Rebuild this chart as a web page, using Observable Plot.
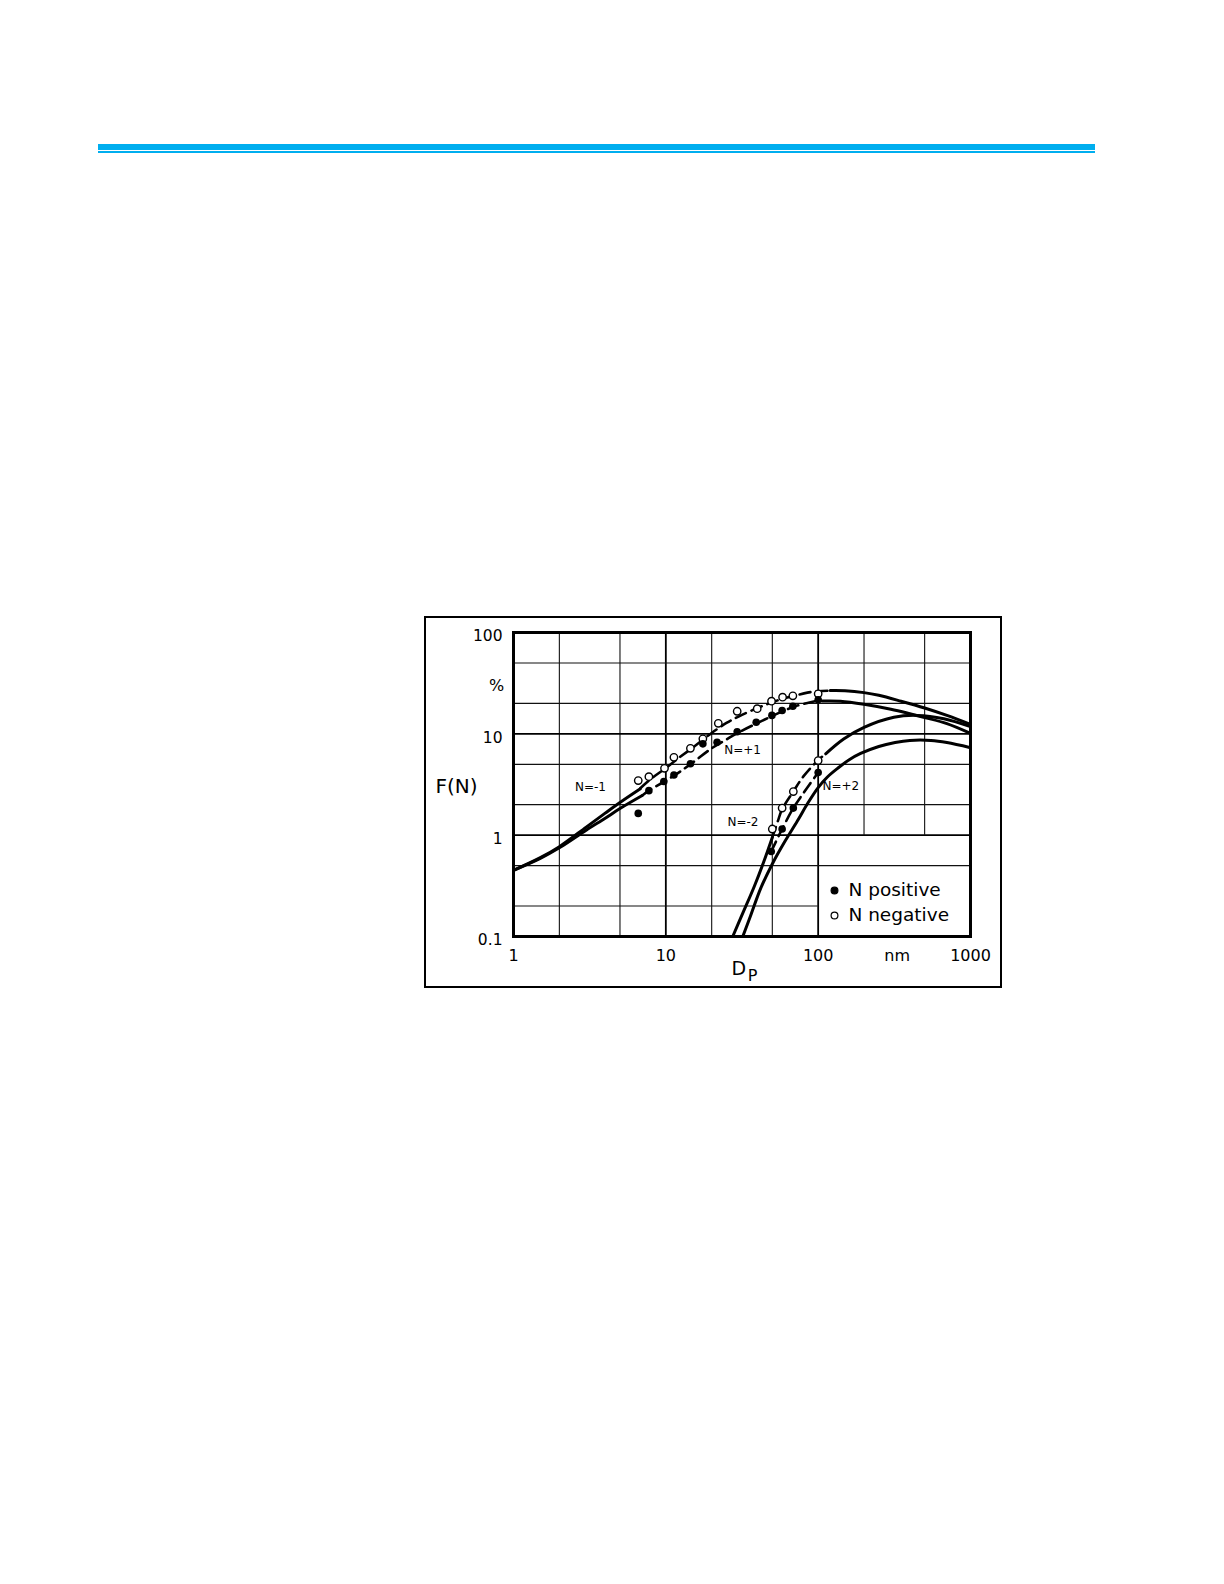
<!DOCTYPE html>
<html>
<head>
<meta charset="utf-8">
<script src="https://cdn.jsdelivr.net/npm/d3@7"></script>
<script src="https://cdn.jsdelivr.net/npm/@observablehq/plot@0.6"></script>
<style>
  html, body { margin: 0; padding: 0; background: #fff; }
  body { width: 1224px; height: 1584px; position: relative; overflow: hidden; font-family: "DejaVu Sans", sans-serif; }
  .bar1 { position: absolute; left: 98px; top: 144px; width: 997px; height: 6px; background: #00AEEF; }
  .bar2 { position: absolute; left: 98px; top: 151px; width: 997px; height: 2px; background: #00AEEF; }
  #chart { position: absolute; left: 425px; top: 617px; }
  .box { position: absolute; left: 424px; top: 616px; width: 578px; height: 372px; border: 2px solid #000; box-sizing: border-box; pointer-events: none; }
</style>
</head>
<body>
<div class="bar1"></div>
<div class="bar2"></div>
<div id="chart"></div>
<div class="box"></div>
<script>
// ---- Axis ticks / grid ----
const xDomain = [1, 1000];
const yDomain = [0.1, 100];
const xTickValues = [1, 10, 100, 330, 1000];
const xTickLabels = ["1", "10", "100", "nm", "1000"];
const yTickValues = [100, 10, 1, 0.1];
const yTickLabels = ["100", "10", "1", "0.1"];
const xMinorGridFull = [2, 5, 20, 50];
const xMinorGridUpper = [200, 500];   // stop at F(N)=1 (legend area left clear)
const xMajorGrid = [10, 100];
const yMinorGridFull = [0.5, 2, 5, 20, 50];
const yMinorGridLeft = [0.2];         // stops at Dp=100 (legend area left clear)
const yMajorGrid = [1, 10];
const gridBreakX = 100;
const gridBreakY = 1;

// ---- Theoretical curves (solid) and fits (dashed): [Dp nm, F(N) %] ----
const nMinus1Left = [[1,0.45],[1.5,0.6],[2,0.77],[3,1.2],[4,1.65],[5,2.1],[6.8,2.87]];
const nPlus1Left  = [[1,0.45],[1.5,0.59],[2,0.75],[3,1.12],[4,1.47],[5,1.83],[7,2.46]];
const nMinus1Dash = [[6.8,2.9],[8,3.6],[10,4.6],[12,5.7],[15,7.3],[20,10.2],[25,12.8],[30,14.8],[40,18],[50,20.5],[60,22.5],[70,23.8],[85,25.5],[100,26.3],[118,26.7]];
const nPlus1Dash  = [[7,2.46],[7.74,2.75],[10,3.45],[12,4.1],[15,5.2],[20,7.2],[25,8.8],[30,10.3],[40,12.8],[50,15],[60,17],[70,18.6],[85,20.2],[100,21.3]];
const nMinus1Right = [[120,26.7],[150,26.6],[200,25.5],[250,24],[350,21],[500,18],[700,15.2],[1000,12.4]];
const nPlus1Right  = [[106,21.1],[140,21],[200,19.6],[300,17.5],[400,15.8],[500,14.5],[700,12.6],[1000,10.1]];
const nMinus2Left  = [[27.5,0.1],[32,0.17],[38,0.31],[44,0.55],[50,0.95]];
const nMinus2Dash  = [[50,0.95],[55,1.45],[58,1.8],[68.7,2.7],[80,3.8],[100,5.5],[110,6.2]];
const nMinus2Right = [[112,6.35],[147,8.9],[200,11.6],[314,14.6],[448,15.2],[668,14.1],[1000,11.8]];
const nPlus2Curve  = [[32,0.1],[36,0.16],[42,0.3],[50,0.52],[60,0.85],[73,1.38],[86,2.1],[100,2.95],[115,3.75],[135,4.6],[160,5.55],[190,6.4],[250,7.5],[320,8.2],[400,8.6],[550,8.6],[700,8.2],[1000,7.3]];
const nPlus2Dash   = [[49.2,0.69],[58,1.15],[68.7,1.85],[80,2.6],[100,4.15]];

// ---- Measured points ----
const negX = [6.59,7.74,9.8,11.3,14.5,17.5,22.1,29.4,39.8,49.4,58.4,68.2,100, 50,58,68.7,100];
const negY = [3.46,3.78,4.57,5.87,7.2,8.93,12.7,16.7,17.7,21.0,23.0,23.7,24.8, 1.15,1.85,2.69,5.45];
const posX = [6.59,7.74,9.7,11.3,14.5,17.5,21.7,29.4,39.2,49.7,58,68.2,100, 49.2,58,68.7,100];
const posY = [1.64,2.75,3.38,3.93,5.06,7.96,8.26,10.5,13.0,15.2,17.0,18.7,21.7, 0.69,1.15,1.85,4.15];

// ---- Annotations ----
const curveLabels = ["N=-1", "N=+1", "N=+2", "N=-2"];
const curveLabelX = [3.2, 31.9, 141, 32.1];
const curveLabelY = [2.97, 6.84, 3.04, 1.34];
const legendLabels = ["N positive", "N negative"];
const legendY = [0.284, 0.161];
const legendDotX = 128;
const legendTextX = 158;

const pts = (a) => a.map(([x, y]) => ({x, y}));
const negPts = negX.map((x, i) => ({x, y: negY[i]}));
const posPts = posX.map((x, i) => ({x, y: posY[i]}));
const labels = curveLabels.map((t, i) => ({t, x: curveLabelX[i], y: curveLabelY[i]}));
const legend = legendLabels.map((t, i) => ({t, y: legendY[i], filled: i === 0}));

const solid = {x: "x", y: "y", stroke: "#000", strokeWidth: 3, curve: "catmull-rom"};
const dashed = {x: "x", y: "y", stroke: "#000", strokeWidth: 2.6, strokeDasharray: "11,6", curve: "catmull-rom"};
const minor = {stroke: "#111", strokeWidth: 1.1};

const chart = Plot.plot({
  width: 576, height: 369,
  marginLeft: 88, marginRight: 31, marginTop: 15, marginBottom: 50,
  style: {background: "none", fontFamily: "DejaVu Sans, sans-serif", color: "#000", overflow: "visible"},
  x: {type: "log", domain: xDomain},
  y: {type: "log", domain: yDomain},
  marks: [
    Plot.ruleX(xMinorGridFull, minor),
    Plot.ruleX(xMinorGridUpper, {...minor, y1: () => gridBreakY, y2: () => yDomain[1]}),
    Plot.ruleX(xMajorGrid, {stroke: "#000", strokeWidth: 1.8}),
    Plot.ruleY(yMinorGridFull, minor),
    Plot.ruleY(yMinorGridLeft, {...minor, x1: () => xDomain[0], x2: () => gridBreakX}),
    Plot.ruleY(yMajorGrid, {stroke: "#000", strokeWidth: 1.8}),
    Plot.line(pts(nMinus1Left), solid),
    Plot.line(pts(nPlus1Left), solid),
    Plot.line(pts(nMinus1Dash), dashed),
    Plot.line(pts(nPlus1Dash), dashed),
    Plot.line(pts(nMinus1Right), solid),
    Plot.line(pts(nPlus1Right), solid),
    Plot.line(pts(nMinus2Left), solid),
    Plot.line(pts(nMinus2Dash), dashed),
    Plot.line(pts(nMinus2Right), solid),
    Plot.line(pts(nPlus2Curve), solid),
    Plot.line(pts(nPlus2Dash), dashed),
    Plot.dot(negPts, {x: "x", y: "y", r: 3.7, fill: "#fff", stroke: "#000", strokeWidth: 1.4}),
    Plot.dot(posPts, {x: "x", y: "y", r: 3.8, fill: "#000", stroke: "none"}),
    Plot.text(labels, {x: "x", y: "y", text: "t", fontSize: 12, fill: "#000"}),
    Plot.dot(legend, {x: () => legendDotX, y: "y", r: 3.4, fill: d => d.filled ? "#000" : "#fff", stroke: "#000", strokeWidth: 1.2}),
    Plot.text(legend, {x: () => legendTextX, y: "y", text: "t", textAnchor: "start", fontSize: 18.5, fill: "#000"}),
    Plot.frame({stroke: "#000", strokeWidth: 3}),
    Plot.axisX({ticks: xTickValues, tickFormat: d => xTickLabels[xTickValues.indexOf(d)], tickSize: 0, tickPadding: 13, fontSize: 16, label: null}),
    Plot.axisY({ticks: yTickValues, tickFormat: d => yTickLabels[yTickValues.indexOf(d)], tickSize: 0, tickPadding: 11, dy: 4, fontSize: 15.5, label: null}),
    Plot.text(["%"], {x: () => 1, y: () => 30, text: d => d, dx: -17, fontSize: 16, fill: "#000"}),
    Plot.text(["F(N)"], {x: () => 1, y: () => 3.0, text: d => d, dx: -57, fontSize: 20, fill: "#000"}),
    Plot.text(["D"], {x: () => 27, frameAnchor: "bottom", text: d => d, textAnchor: "start", dy: 38, fontSize: 19, fill: "#000"}),
    Plot.text(["P"], {x: () => 34.5, frameAnchor: "bottom", text: d => d, textAnchor: "start", dy: 44, fontSize: 16, fill: "#000"})
  ]
});
document.getElementById("chart").appendChild(chart);
</script>
</body>
</html>
